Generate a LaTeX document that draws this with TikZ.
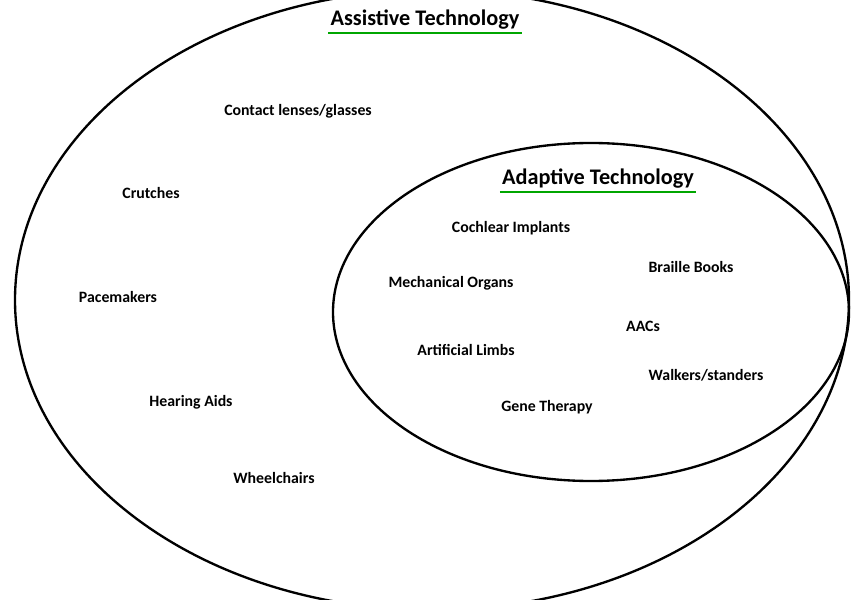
\documentclass[tikz,border=0pt]{standalone}
\usepackage{fontspec}
\setmainfont{Carlito}
\usetikzlibrary{calc}
\begin{document}
\begin{tikzpicture}[x=0.03cm,y=-0.03cm]

  \tikzstyle{item}=[font=\bfseries\fontsize{13.5}{15}\selectfont,text=black]
  \tikzstyle{title}=[font=\bfseries\fontsize{19}{21}\selectfont,text=black]
  \tikzstyle{underline}=[draw=green!65!black,line width=2.2pt]

  \useasboundingbox (0,0) rectangle (863,600);
  \clip (0,0) rectangle (863,600);

  % outer and inner sets
  \draw[line width=2pt] (432,300) ellipse [x radius=417, y radius=310];
  \draw[line width=2pt] (591,312) ellipse [x radius=258, y radius=169];

  \node[title] (assist) at (425,20) {Assistive Technology};
  \draw[underline] ($(assist.south west)+(2,-1)$) -- ($(assist.south east)+(-2,-1)$);
  \node[title] (adapt) at (598,179) {Adaptive Technology};
  \draw[underline] ($(adapt.south west)+(2,-1)$) -- ($(adapt.south east)+(-2,-1)$);

  \node[item] (lenses)  at (298,111) {Contact lenses/glasses};
  \node[item] (crutch)  at (151,193) {Crutches};
  \node[item] (pace)    at (118,297) {Pacemakers};
  \node[item] (hearing) at (191,402) {Hearing Aids};
  \node[item] (wheel)   at (274,478) {Wheelchairs};

  \node[item] (cochlear) at (511,228) {Cochlear Implants};
  \node[item] (braille)  at (691,267) {Braille Books};
  \node[item] (organs)   at (451,283) {Mechanical Organs};
  \node[item] (aac)      at (643,326) {AACs};
  \node[item] (limbs)    at (466,350) {Artificial Limbs};
  \node[item] (walkers)  at (706,375) {Walkers/standers};
  \node[item] (gene)     at (547,407) {Gene Therapy};
\end{tikzpicture}
\end{document}
